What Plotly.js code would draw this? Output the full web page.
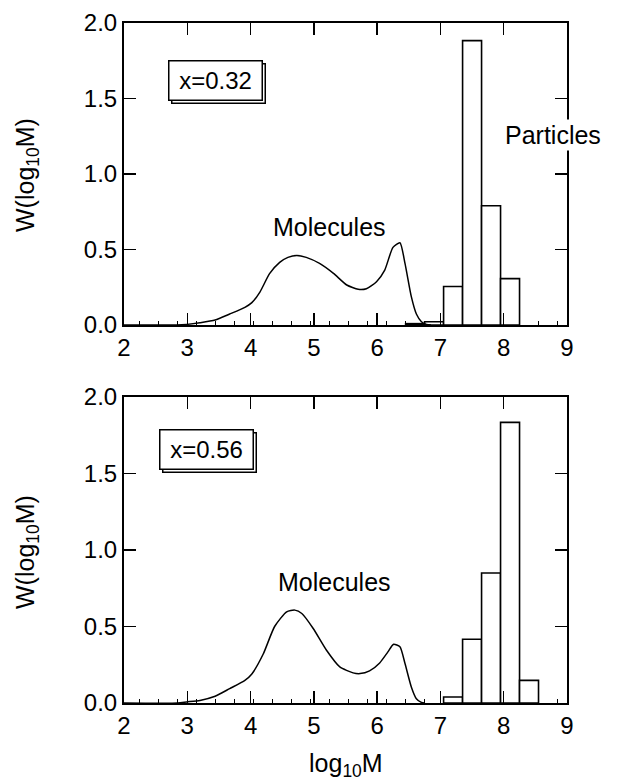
<!DOCTYPE html>
<html>
<head>
<meta charset="utf-8">
<script src="https://cdn.plot.ly/plotly-3.0.1.min.js"></script>
<style>html,body{margin:0;padding:0;background:#fff;}#chart{width:628px;height:783px;}</style>
</head>
<body>
<div id="chart"></div>
<script>
// ---- Data ----
// Panel 1: x = 0.32
const molX1 = [2.0, 2.83, 2.99, 3.2, 3.44, 3.67, 3.91, 4.02, 4.15, 4.3, 4.46, 4.59, 4.73, 4.88, 5.09, 5.31, 5.52, 5.7, 5.83, 5.99, 6.12, 6.25, 6.36, 6.44, 6.54, 6.62, 6.7, 6.78, 6.85];
const molY1 = [0.0, 0.0, 0.004, 0.015, 0.033, 0.073, 0.117, 0.148, 0.22, 0.34, 0.415, 0.448, 0.461, 0.448, 0.408, 0.342, 0.265, 0.236, 0.24, 0.287, 0.364, 0.514, 0.545, 0.408, 0.188, 0.073, 0.022, 0.004, 0.0];
const binX1 = [6.6, 6.9, 7.2, 7.5, 7.8, 8.1];
const binH1 = [0.009, 0.022, 0.255, 1.883, 0.79, 0.307];

// Panel 2: x = 0.56
const molX2 = [2.0, 2.85, 2.99, 3.2, 3.44, 3.67, 3.91, 4.02, 4.2, 4.38, 4.57, 4.7, 4.81, 4.99, 5.2, 5.41, 5.62, 5.73, 5.88, 6.04, 6.17, 6.26, 6.36, 6.44, 6.54, 6.62, 6.7, 6.75];
const molY2 = [0.0, 0.0, 0.007, 0.017, 0.044, 0.094, 0.148, 0.19, 0.32, 0.50, 0.596, 0.607, 0.585, 0.487, 0.345, 0.236, 0.197, 0.192, 0.21, 0.262, 0.334, 0.384, 0.367, 0.258, 0.105, 0.028, 0.004, 0.0];
const binX2 = [7.2, 7.5, 7.8, 8.1, 8.4];
const binH2 = [0.039, 0.417, 0.85, 1.834, 0.148];

const xTicks = [2, 3, 4, 5, 6, 7, 8, 9];
const yTicks = [0, 0.5, 1.0, 1.5, 2.0];
const labels1 = {box: 'x=0.32', mol: 'Molecules', part: 'Particles'};
const labels2 = {box: 'x=0.56', mol: 'Molecules', part: 'Particles'};
const yTitle = 'W(log<sub>10</sub>M)';
const xTitle = 'log<sub>10</sub>M';

// ---- Styling ----
const FONT = 'Liberation Sans, Arial, Helvetica, sans-serif';
const FS = 24;
const W = 628, H = 783;
const xDom = [124 / W, 567 / W];
const yDom1 = [1 - 325 / H, 1 - 23 / H];
const yDom2 = [1 - 703 / H, 1 - 397 / H];

const traces = [
  {x: molX1, y: molY1, type: 'scatter', mode: 'lines', line: {color: '#000', width: 1.5, shape: 'spline', smoothing: 0.6}, xaxis: 'x', yaxis: 'y', hoverinfo: 'skip'},
  {x: binX1, y: binH1, type: 'bar', width: 0.3, marker: {color: '#fff', line: {color: '#000', width: 1.6}}, xaxis: 'x', yaxis: 'y', hoverinfo: 'skip'},
  {x: molX2, y: molY2, type: 'scatter', mode: 'lines', line: {color: '#000', width: 1.5, shape: 'spline', smoothing: 0.6}, xaxis: 'x2', yaxis: 'y2', hoverinfo: 'skip'},
  {x: binX2, y: binH2, type: 'bar', width: 0.3, marker: {color: '#fff', line: {color: '#000', width: 1.6}}, xaxis: 'x2', yaxis: 'y2', hoverinfo: 'skip'},
  {x: [2], y: [-1], type: 'scatter', mode: 'markers', xaxis: 'x3', yaxis: 'y3', showlegend: false, hoverinfo: 'skip'},
  {x: [2], y: [-1], type: 'scatter', mode: 'markers', xaxis: 'x4', yaxis: 'y4', showlegend: false, hoverinfo: 'skip'}
];

function xAx(anchor) {
  return {
    domain: xDom, range: [2, 9], anchor: anchor, tickmode: 'array', tickvals: xTicks, ticktext: xTicks.map(String),
    ticks: 'inside', ticklen: 12, tickwidth: 1.5, tickcolor: '#000',
    showline: true, linewidth: 2, linecolor: '#000', showgrid: false, zeroline: false,
    tickfont: {family: FONT, size: FS, color: '#000'}, fixedrange: true,
    minor: {ticks: 'inside', ticklen: 4, tickwidth: 1, tickcolor: '#000', tick0: 2.25, dtick: 0.3, showgrid: false}
  };
}
function yAx(anchor, dom) {
  return {
    domain: dom, range: [0, 2], anchor: anchor, tickmode: 'array', tickvals: yTicks, ticktext: yTicks.map(v => v.toFixed(1)),
    ticks: 'inside', ticklen: 12, tickwidth: 1.5, tickcolor: '#000',
    showline: true, linewidth: 2, linecolor: '#000', showgrid: false, zeroline: false,
    tickfont: {family: FONT, size: FS, color: '#000'}, fixedrange: true
  };
}
function topAx(over, anchor) {
  return {domain: xDom, range: [2, 9], overlaying: over, anchor: anchor, side: 'top', tickmode: 'array', tickvals: xTicks,
    ticks: 'inside', ticklen: 12, tickwidth: 1.5, tickcolor: '#000', showticklabels: false,
    showline: true, linewidth: 2, linecolor: '#000', showgrid: false, zeroline: false, fixedrange: true};
}
function rightAx(over, anchor, dom) {
  return {domain: dom, range: [0, 2], overlaying: over, anchor: anchor, side: 'right', tickmode: 'array', tickvals: yTicks,
    ticks: 'inside', ticklen: 12, tickwidth: 1.5, tickcolor: '#000', showticklabels: false,
    showline: true, linewidth: 2, linecolor: '#000', showgrid: false, zeroline: false, fixedrange: true};
}

const tf = {family: FONT, size: 25, color: '#000'};
const bf = {family: FONT, size: 24, color: '#000'};
const C = {xanchor: 'center', yanchor: 'middle', showarrow: false};
function boxAnn(xr, yr, x, y, text) {
  return [
    Object.assign({xref: xr, yref: yr, x: x, y: y, text: ' ', font: bf, width: 88, height: 34, borderpad: 2,
      bordercolor: '#000', borderwidth: 1.5, bgcolor: '#fff', xshift: 3, yshift: -3}, C),
    Object.assign({xref: xr, yref: yr, x: x, y: y, text: text, font: bf, width: 88, height: 34, borderpad: 2,
      bordercolor: '#000', borderwidth: 1.5, bgcolor: '#fff'}, C)
  ];
}
const annotations = [].concat(
  boxAnn('x', 'y', 3.44, 1.616, labels1.box),
  [
    Object.assign({xref: 'x', yref: 'y', x: 5.24, y: 0.65, text: labels1.mol, font: tf}, C),
    Object.assign({xref: 'x', yref: 'y', x: 8.78, y: 1.26, text: labels1.part, font: tf, bgcolor: '#fff'}, C)
  ],
  boxAnn('x2', 'y2', 3.31, 1.657, labels2.box),
  [
    Object.assign({xref: 'x2', yref: 'y2', x: 5.32, y: 0.794, text: labels2.mol, font: tf}, C),
    Object.assign({xref: 'x2', yref: 'y2', x: 9.06, y: 1.16, text: labels2.part, font: tf, bgcolor: '#fff'}, C),
    Object.assign({xref: 'paper', yref: 'paper', x: 27 / W, y: 1 - 175 / H, text: yTitle, textangle: -90, font: tf}, C),
    Object.assign({xref: 'paper', yref: 'paper', x: 27 / W, y: 1 - 552 / H, text: yTitle, textangle: -90, font: tf}, C),
    Object.assign({xref: 'paper', yref: 'paper', x: 345.5 / W, y: 1 - 765 / H, text: xTitle, font: tf}, C)
  ]
);

const layout = {
  width: W, height: H,
  margin: {l: 0, r: 0, t: 0, b: 0},
  paper_bgcolor: '#fff', plot_bgcolor: 'rgba(0,0,0,0)',
  showlegend: false, barmode: 'overlay',
  xaxis: xAx('y'), yaxis: yAx('x', yDom1),
  xaxis2: xAx('y2'), yaxis2: yAx('x2', yDom2),
  xaxis3: topAx('x', 'y'), yaxis3: rightAx('y', 'x', yDom1),
  xaxis4: topAx('x2', 'y2'), yaxis4: rightAx('y2', 'x2', yDom2),
  annotations: annotations,
  font: {family: FONT, color: '#000'}
};

Plotly.newPlot('chart', traces, layout, {staticPlot: true, displayModeBar: false});
</script>
</body>
</html>
